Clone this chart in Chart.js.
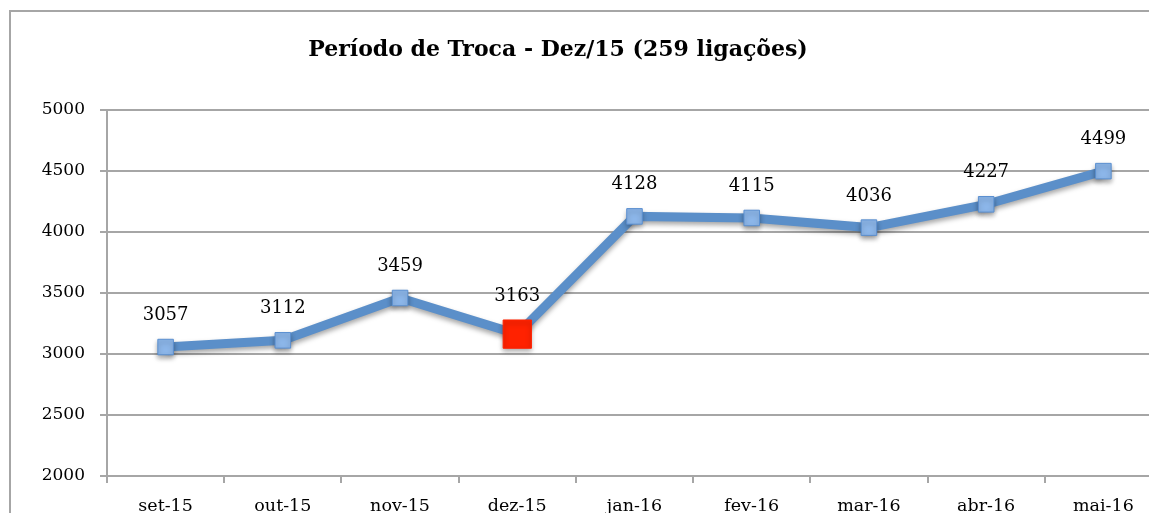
<!DOCTYPE html>
<html>
<head>
<meta charset="utf-8">
<script src="https://cdn.jsdelivr.net/npm/chart.js@4.4.1/dist/chart.umd.min.js"></script>
<style>
  html, body { margin: 0; padding: 0; background: #fff; overflow: hidden; width: 1149px; height: 513px; }
  #frame { position: absolute; left: 9px; top: 10px; width: 1300px; height: 700px; border: 2px solid #a6a6a6; box-sizing: border-box; }
  #wrap { position: absolute; left: -58px; top: 0px; width: 1232px; height: 530px; }
</style>
</head>
<body>
<div id="frame"></div>
<div id="wrap"><canvas id="c"></canvas></div>
<script>
const categories = ['set-15', 'out-15', 'nov-15', 'dez-15', 'jan-16', 'fev-16', 'mar-16', 'abr-16', 'mai-16'];
const values = [3057, 3112, 3459, 3163, 4128, 4115, 4036, 4227, 4499];
const yTicks = [2000, 2500, 3000, 3500, 4000, 4500, 5000];
const titleText = 'Período de Troca - Dez/15 (259 ligações)';
const highlightCategory = 'dez-15';

const serif = '"DejaVu Serif", "Liberation Serif", serif';
const gridColor = '#a6a6a6';

const isHi = (ctx) => categories[ctx.dataIndex] === highlightCategory;

const shadowPlugin = {
  id: 'shadow',
  beforeDatasetsDraw(chart) {
    const c = chart.ctx;
    c.save();
    c.shadowColor = 'rgba(0,0,0,0.35)';
    c.shadowBlur = 5;
    c.shadowOffsetX = 0;
    c.shadowOffsetY = 3;
  },
  afterDatasetsDraw(chart) {
    chart.ctx.restore();
  }
};

const labelPlugin = {
  id: 'valueLabels',
  afterDatasetsDraw(chart) {
    const c = chart.ctx;
    const meta = chart.getDatasetMeta(0);
    c.save();
    c.font = '18px ' + serif;
    c.fillStyle = '#000';
    c.textAlign = 'center';
    c.textBaseline = 'middle';
    meta.data.forEach((pt, i) => {
      const r = pt.options.radius * Math.SQRT1_2;
      c.fillText(String(values[i]), pt.x, pt.y - r - 24);
    });
    c.restore();
  }
};

new Chart(document.getElementById('c'), {
  type: 'line',
  data: {
    labels: categories,
    datasets: [{
      data: values,
      borderColor: '#5b8fc9',
      borderWidth: 9,
      pointStyle: 'rect',
      pointRadius: (ctx) => isHi(ctx) ? 20 : 11,
      pointHoverRadius: (ctx) => isHi(ctx) ? 20 : 11,
      pointBackgroundColor: (ctx) => isHi(ctx) ? '#ff2200' : '#8cb6e9',
      pointBorderColor: (ctx) => isHi(ctx) ? '#ff2200' : '#5a8fd0',
      pointBorderWidth: 1,
      tension: 0,
      fill: false
    }]
  },
  options: {
    responsive: true,
    maintainAspectRatio: false,
    animation: false,
    layout: { padding: 0 },
    plugins: {
      legend: { display: false },
      tooltip: { enabled: false },
      title: {
        display: true,
        text: titleText,
        color: '#000',
        font: { family: serif, size: 22, weight: 'bold', lineHeight: 1.2 },
        padding: { top: 37, bottom: 46.6 }
      }
    },
    scales: {
      x: {
        type: 'category',
        offset: true,
        grid: { offset: true, drawOnChartArea: false, drawTicks: true, tickLength: 7, color: gridColor, lineWidth: 2 },
        border: { color: gridColor, width: 2 },
        ticks: { color: '#000', font: { family: serif, size: 17.5 }, padding: 13, maxRotation: 0, autoSkip: false },
        afterFit(scale) { scale.height = 54; }
      },
      y: {
        min: yTicks[0],
        max: yTicks[yTicks.length - 1],
        afterBuildTicks(scale) { scale.ticks = yTicks.map(v => ({ value: v })); },
        grid: { color: gridColor, lineWidth: 2, tickLength: 7 },
        border: { color: gridColor, width: 2 },
        ticks: { color: '#000', font: { family: serif, size: 17 }, padding: 15, callback: (v) => String(v) },
        afterFit(scale) { scale.width = 165; }
      }
    }
  },
  plugins: [shadowPlugin, labelPlugin]
});
</script>
</body>
</html>
